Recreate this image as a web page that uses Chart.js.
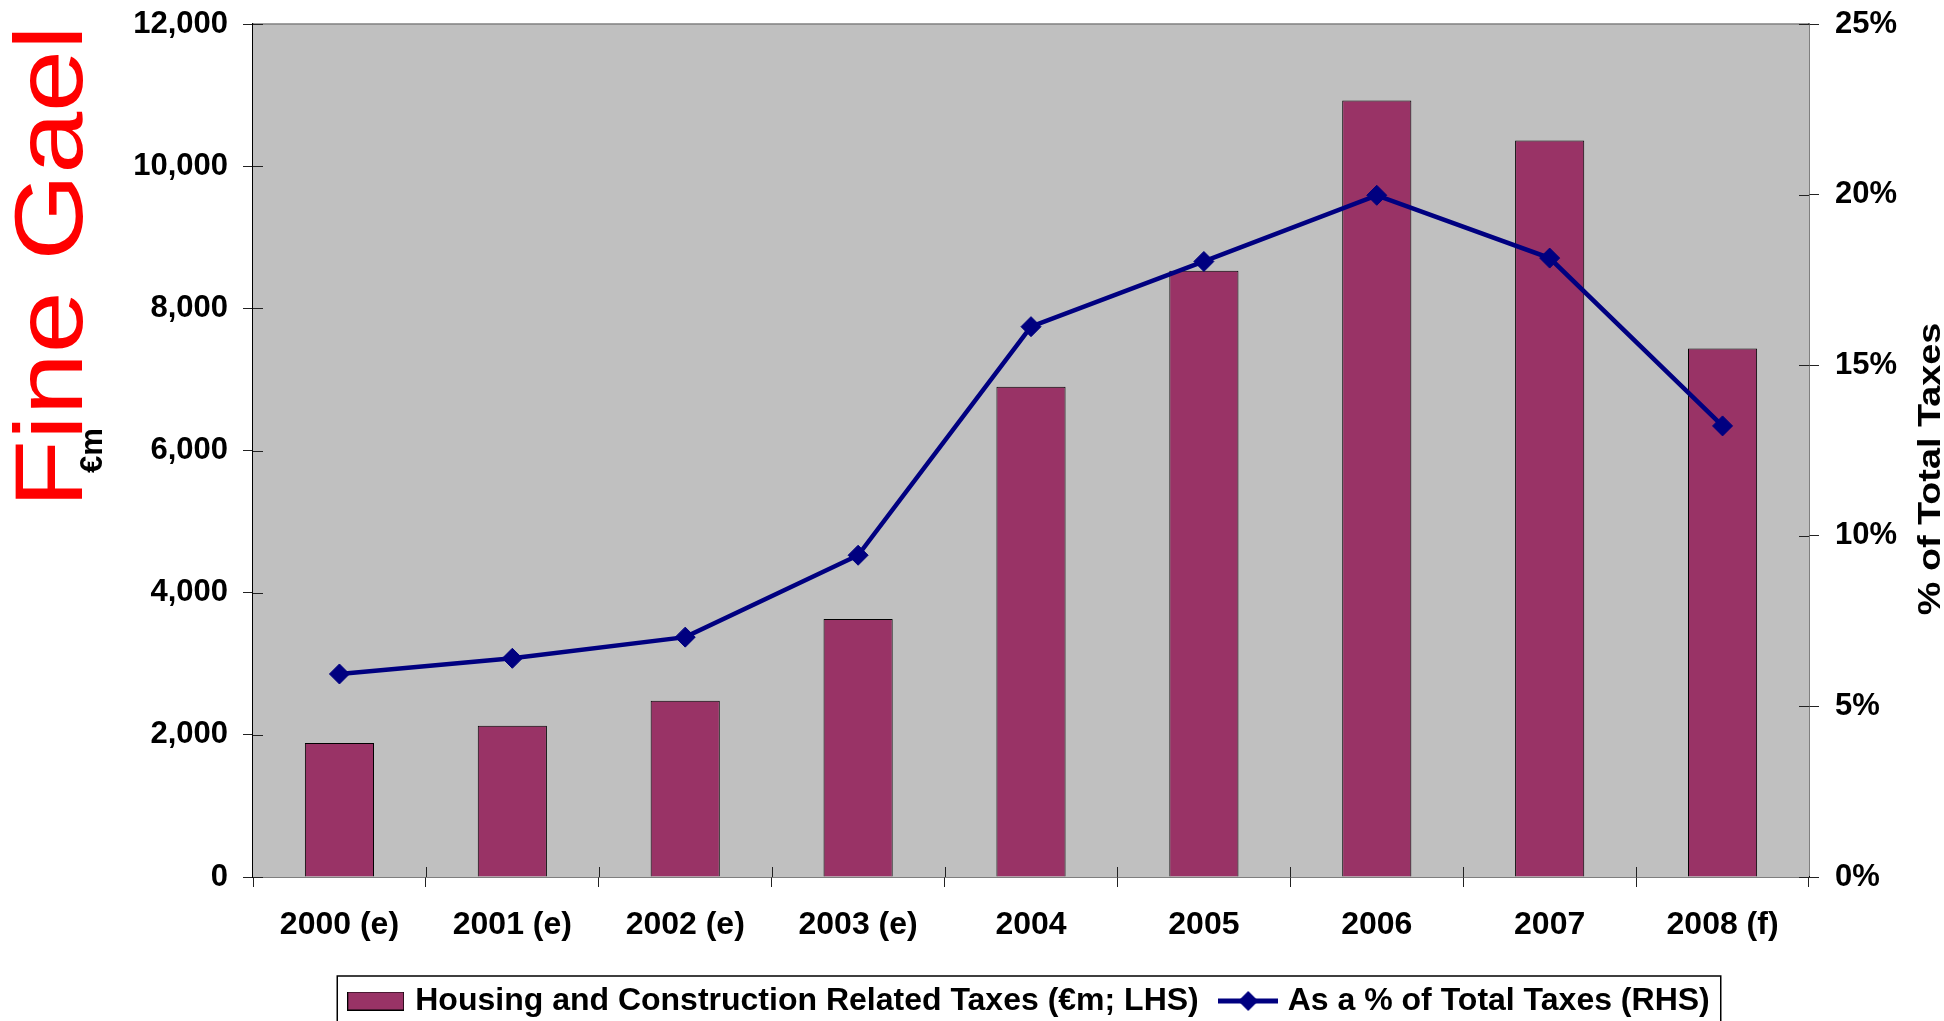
<!DOCTYPE html>
<html>
<head>
<meta charset="utf-8">
<title>Housing and Construction Related Taxes</title>
<script src="https://cdn.jsdelivr.net/npm/chart.js@4/dist/chart.umd.min.js"></script>
<style>
  html, body { margin: 0; padding: 0; background: #fff; }
  #wrap { width: 1944px; height: 1021px; position: relative; }
</style>
</head>
<body>
<div id="wrap"><canvas id="taxChart"></canvas></div>
<script>
// data
const years = ['2000 (e)', '2001 (e)', '2002 (e)', '2003 (e)', '2004', '2005', '2006', '2007', '2008 (f)'];
const housingTaxes = [1885, 2129, 2478, 3629, 6897, 8527, 10923, 10360, 7436];   // €m, LHS
const shareOfTotal = [5.95, 6.41, 7.03, 9.43, 16.13, 18.04, 19.98, 18.14, 13.22]; // %, RHS
const leftTicks = [0, 2000, 4000, 6000, 8000, 10000, 12000];
const rightTicks = [0, 5, 10, 15, 20, 25];

const FONT = '"Liberation Sans", Arial, Helvetica, sans-serif';
const BAR_COLOR = '#993366';
const LINE_COLOR = '#000080';

// little canvases used as legend symbols
function makeBarIcon() {
    const c = document.createElement('canvas');
    c.width = 57; c.height = 19;
    const g = c.getContext('2d');
    g.fillStyle = BAR_COLOR;
    g.fillRect(0, 0, 57, 19);
    g.strokeStyle = '#000';
    g.lineWidth = 1;
    g.strokeRect(0.5, 0.5, 56, 18);
    return c;
}
function makeLineIcon() {
    const c = document.createElement('canvas');
    c.width = 60; c.height = 22;
    const g = c.getContext('2d');
    g.strokeStyle = LINE_COLOR;
    g.lineWidth = 5;
    g.beginPath(); g.moveTo(0, 11); g.lineTo(60, 11); g.stroke();
    g.fillStyle = LINE_COLOR;
    g.beginPath();
    g.moveTo(30, 1); g.lineTo(40, 11); g.lineTo(30, 21); g.lineTo(20, 11);
    g.closePath(); g.fill();
    return c;
}
const legendIcons = [makeBarIcon(), makeLineIcon()];

// grey plot background, grey top edge and the inner half of the cross tick marks
const plotFrame = {
    id: 'plotFrame',
    beforeDatasetsDraw(chart) {
        const {ctx, chartArea} = chart;
        ctx.save();
        ctx.fillStyle = '#c0c0c0';
        ctx.fillRect(chartArea.left, chartArea.top, chartArea.right - chartArea.left, chartArea.bottom - chartArea.top);
        ctx.strokeStyle = '#808080';
        ctx.lineWidth = 1.5;
        ctx.beginPath();
        ctx.moveTo(chartArea.left, chartArea.top);
        ctx.lineTo(chartArea.right, chartArea.top);
        ctx.stroke();

        ctx.strokeStyle = '#222';
        ctx.lineWidth = 1;
        const y = chart.scales.y, y1 = chart.scales.y1;
        leftTicks.forEach(v => {
            const p = Math.round(y.getPixelForValue(v)) + 0.5;
            ctx.beginPath(); ctx.moveTo(chartArea.left, p); ctx.lineTo(chartArea.left + 10, p); ctx.stroke();
        });
        rightTicks.forEach(v => {
            const p = Math.round(y1.getPixelForValue(v)) + 0.5;
            ctx.beginPath(); ctx.moveTo(chartArea.right - 10, p); ctx.lineTo(chartArea.right, p); ctx.stroke();
        });
        const n = years.length;
        for (let i = 1; i < n; i++) {
            const p = Math.round(chartArea.left + i * (chartArea.right - chartArea.left) / n) + 0.5;
            ctx.beginPath(); ctx.moveTo(p, chartArea.bottom - 10); ctx.lineTo(p, chartArea.bottom); ctx.stroke();
        }
        ctx.restore();
    }
};

// red "Fine Gael" mark, right axis title (reads upwards) and the legend frame
const extras = {
    id: 'extras',
    afterDraw(chart) {
        const ctx = chart.ctx;
        ctx.save();
        ctx.translate(82, 508);
        ctx.rotate(-Math.PI / 2);
        ctx.scale(1.16, 1);
        ctx.fillStyle = '#ff0000';
        ctx.font = '96px ' + FONT;
        ctx.textAlign = 'left';
        ctx.textBaseline = 'alphabetic';
        ctx.fillText('Fine Gael', 0, 0);
        ctx.restore();

        ctx.save();
        ctx.translate(chart.width - 4, 469);
        ctx.rotate(-Math.PI / 2);
        ctx.scale(1.18, 1);
        ctx.fillStyle = '#000';
        ctx.font = 'bold 32px ' + FONT;
        ctx.textAlign = 'center';
        ctx.textBaseline = 'alphabetic';
        ctx.fillText('% of Total Taxes', 0, 0);
        ctx.restore();

        const boxes = chart.legend.legendHitBoxes;
        if (boxes && boxes.length) {
            const left = Math.min(...boxes.map(b => b.left)) - 15;
            const right = Math.max(...boxes.map(b => b.left + b.width)) + 11;
            const mid = boxes[0].top + boxes[0].height / 2;
            ctx.save();
            ctx.strokeStyle = '#000';
            ctx.lineWidth = 1.5;
            ctx.strokeRect(left, mid - 25, right - left, 60);
            ctx.restore();
        }
    }
};

// the y axes would otherwise push the plot down to make room for the top tick label
function trimPadding(scale) {
    scale.paddingTop = 0;
    scale.paddingBottom = 0;
}

const ctx = document.getElementById('taxChart');

new Chart(ctx, {
    data: {
        labels: years,
        datasets: [
            {
                type: 'bar',
                label: 'Housing and Construction Related Taxes (€m; LHS)',
                data: housingTaxes,
                yAxisID: 'y',
                backgroundColor: BAR_COLOR,
                borderColor: '#000',
                borderWidth: 1,
                barPercentage: 0.4,
                categoryPercentage: 1.0,
                order: 1
            },
            {
                type: 'line',
                label: 'As a % of Total Taxes (RHS)',
                data: shareOfTotal,
                yAxisID: 'y1',
                borderColor: LINE_COLOR,
                backgroundColor: LINE_COLOR,
                borderWidth: 4.5,
                tension: 0,
                pointStyle: 'rectRot',
                pointRadius: 10,
                pointBorderWidth: 1,
                pointBackgroundColor: LINE_COLOR,
                pointBorderColor: LINE_COLOR,
                order: 0
            }
        ]
    },
    options: {
        responsive: true,
        maintainAspectRatio: false,
        animation: false,
        events: [],
        layout: { padding: { left: 75, right: 0, top: 24, bottom: -6 } },
        scales: {
            x: {
                offset: true,
                grid: { offset: true, drawOnChartArea: false, color: '#222', tickLength: 10 },
                border: { color: '#000', width: 1.5 },
                ticks: { color: '#000', padding: 19, font: { family: FONT, size: 32, weight: 'bold' } },
                afterFit(scale) { scale.height = 82; }
            },
            y: {
                position: 'left',
                min: 0,
                max: 12000,
                afterBuildTicks(scale) { scale.ticks = leftTicks.map(v => ({ value: v })); },
                grid: { drawOnChartArea: false, color: '#222', tickLength: 10 },
                border: { color: '#000', width: 1.5 },
                ticks: {
                    color: '#000',
                    padding: 15,
                    font: { family: FONT, size: 31, weight: 'bold' },
                    callback: v => v.toLocaleString('en-US')
                },
                title: {
                    display: true,
                    text: '€m',
                    color: '#000',
                    padding: 0,
                    font: { family: FONT, size: 31, weight: 'bold' }
                },
                afterFit(scale) { scale.width = 178; trimPadding(scale); }
            },
            y1: {
                position: 'right',
                min: 0,
                max: 25,
                afterBuildTicks(scale) { scale.ticks = rightTicks.map(v => ({ value: v })); },
                grid: { drawOnChartArea: false, color: '#222', tickLength: 10 },
                border: { color: '#000', width: 1.5 },
                ticks: {
                    color: '#000',
                    padding: 16,
                    font: { family: FONT, size: 31, weight: 'bold' },
                    callback: v => v + '%'
                },
                afterFit(scale) { scale.width = 135; trimPadding(scale); }
            }
        },
        plugins: {
            tooltip: { enabled: false },
            legend: {
                position: 'bottom',
                fullSize: false,
                labels: {
                    color: '#000',
                    padding: 26,
                    usePointStyle: true,
                    pointStyleWidth: 47,
                    font: { family: FONT, size: 32, weight: 'bold' },
                    generateLabels(chart) {
                        const items = Chart.defaults.plugins.legend.labels.generateLabels(chart);
                        items.sort((a, b) => a.datasetIndex - b.datasetIndex);
                        items.forEach(it => { it.pointStyle = legendIcons[it.datasetIndex]; it.lineWidth = 0; });
                        return items;
                    }
                }
            }
        }
    },
    plugins: [plotFrame, extras]
});
</script>
</body>
</html>
